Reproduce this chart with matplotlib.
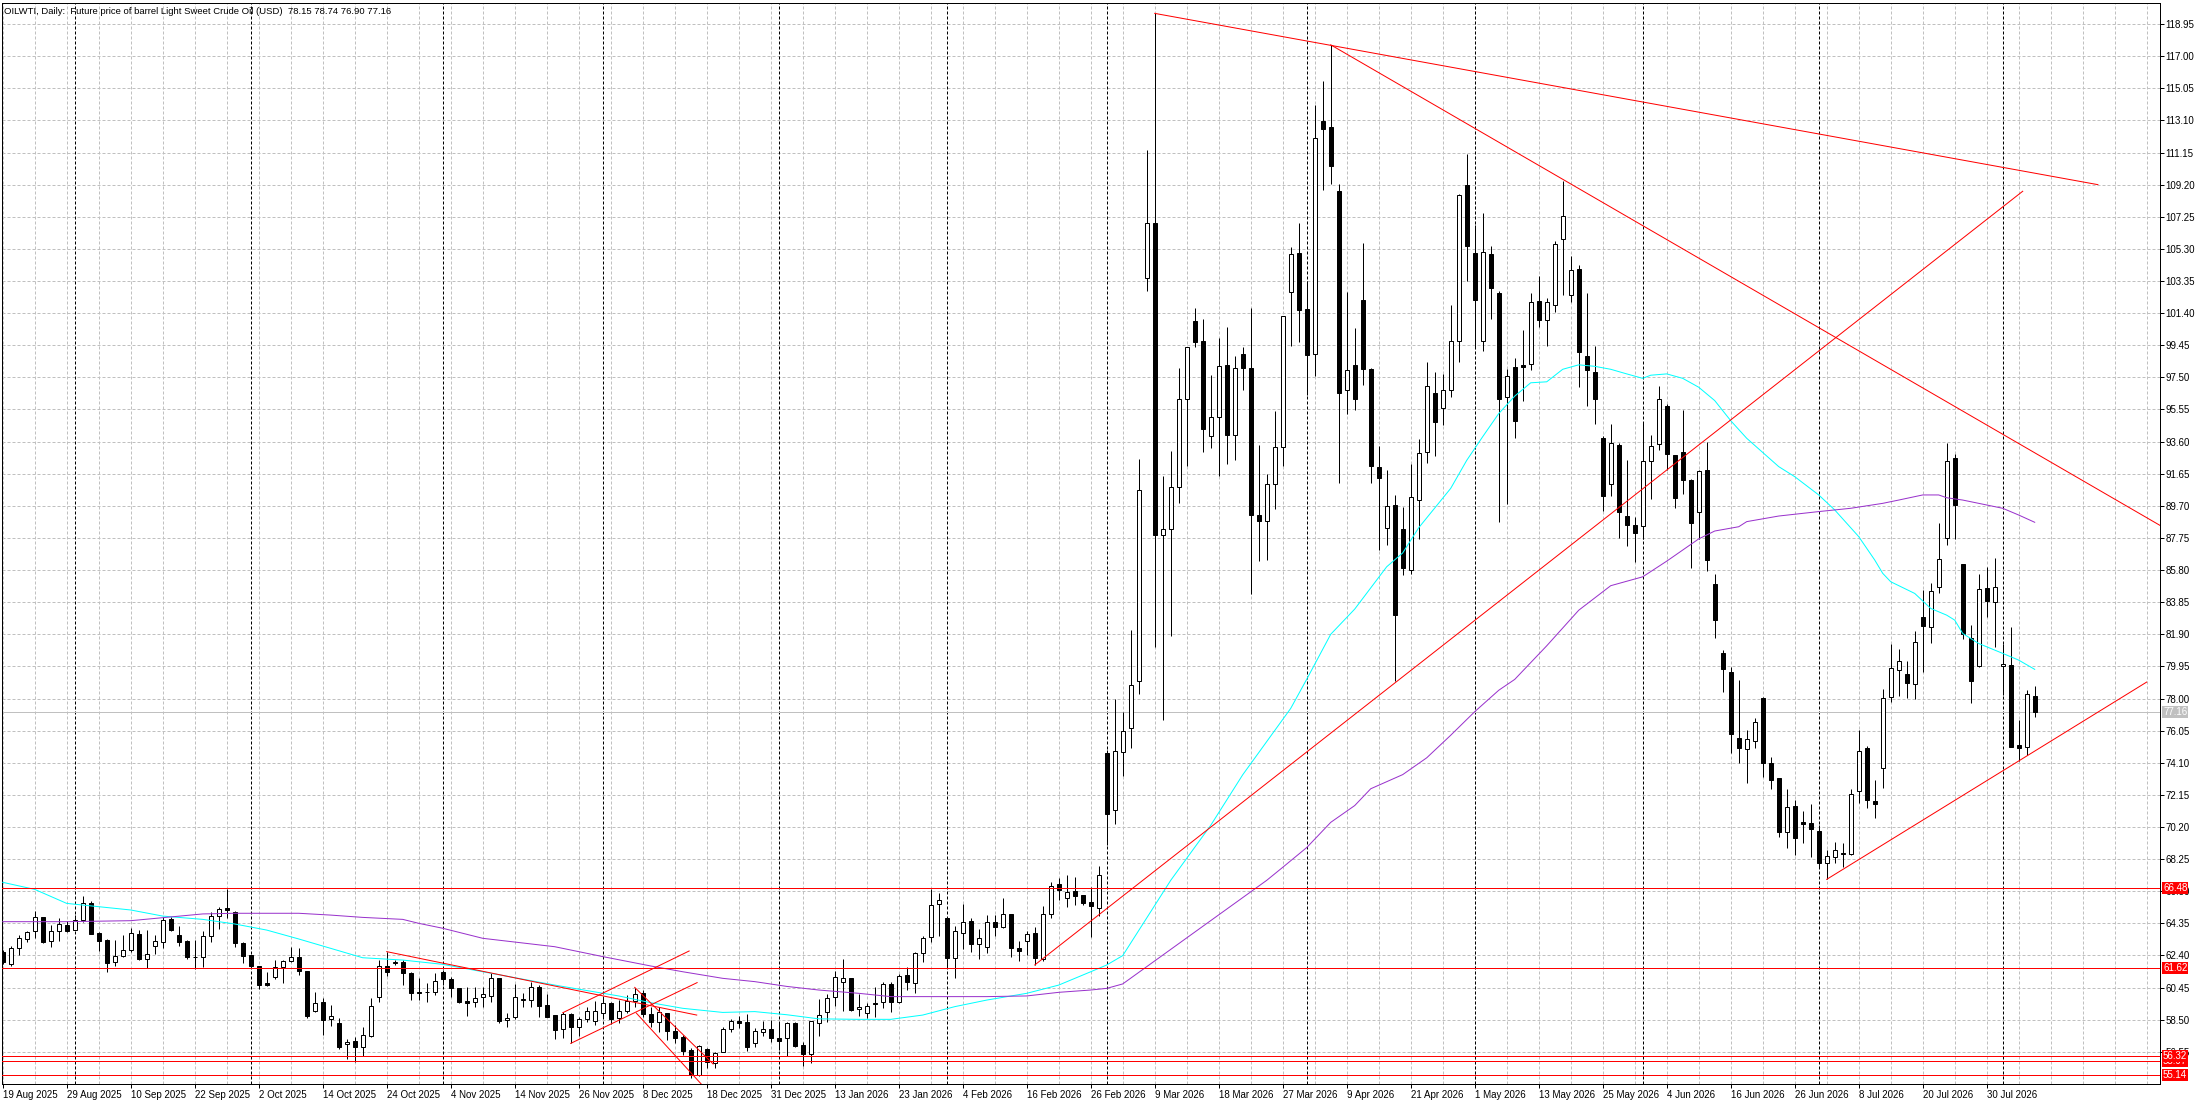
import numpy as np
import matplotlib
matplotlib.use('Agg')
import matplotlib.pyplot as plt

plt.rcParams['font.family'] = ['Liberation Sans', 'DejaVu Sans']
plt.rcParams['font.size'] = 7

# ---- daily bars: open, high, low, close (bar 0 = 19 Aug 2025)
opens = [62.63, 61.88, 62.83, 63.42, 63.88, 64.71, 63.26, 63.88, 64.25, 63.92,
         64.55, 65.56, 63.74, 63.34, 61.98, 62.38, 62.71, 63.70, 62.20, 62.95,
         63.24, 64.63, 63.64, 63.28, 62.30, 62.28, 63.60, 64.79, 65.26, 65.02,
         63.17, 62.43, 61.76, 60.72, 61.11, 61.68, 62.06, 62.28, 61.47, 59.05,
         59.55, 58.52, 58.28, 57.00, 57.20, 56.86, 57.53, 59.90, 61.76, 61.92,
         62.02, 61.31, 60.16, 60.20, 60.20, 61.37, 60.97, 60.40, 59.63, 59.59,
         59.86, 59.96, 61.01, 58.46, 58.64, 59.72, 59.69, 60.46, 59.37, 58.76,
         57.93, 58.82, 58.03, 58.52, 58.42, 58.93, 59.49, 58.58, 59.05, 59.63,
         60.10, 58.82, 58.34, 58.88, 57.83, 57.47, 56.66, 55.14, 56.70, 55.85,
         56.56, 57.91, 58.40, 58.34, 57.06, 57.77, 57.91, 57.37, 57.41, 58.28,
         56.96, 56.39, 58.32, 58.99, 59.90, 60.81, 61.01, 59.13, 58.88, 59.53,
         59.55, 60.67, 59.59, 61.21, 60.75, 62.57, 63.50, 65.50, 64.69, 62.22,
         63.74, 64.49, 63.07, 62.93, 64.41, 64.15, 64.90, 62.83, 63.30, 63.74,
         62.18, 64.90, 66.72, 65.87, 66.31, 66.05, 65.62, 65.30, 74.67, 71.22,
         74.74, 76.20, 79.07, 103.54, 106.88, 87.93, 88.30, 90.82, 96.21, 100.92,
         99.69, 93.93, 95.12, 98.26, 94.00, 98.94, 98.09, 89.12, 88.78, 91.03,
         93.25, 102.69, 105.07, 101.67, 98.94, 113.09, 112.68, 108.83, 96.72, 98.26,
         102.18, 98.02, 92.05, 88.37, 89.73, 88.27, 85.81, 90.08, 92.97, 96.55,
         95.64, 96.72, 99.72, 109.17, 105.07, 99.72, 104.97, 102.62, 96.31, 98.12,
         98.26, 98.31, 102.13, 100.96, 101.91, 105.89, 102.53, 104.08, 98.80, 97.85,
         93.79, 91.00, 93.38, 89.10, 88.51, 88.45, 92.43, 93.46, 95.76, 92.79,
         92.98, 91.27, 89.32, 91.89, 84.93, 80.74, 79.59, 75.58, 74.91, 75.42,
         78.05, 74.06, 73.15, 69.87, 71.47, 70.48, 70.42, 69.95, 68.03, 68.36,
         68.64, 68.56, 72.38, 74.97, 71.78, 73.76, 78.07, 79.73, 79.49, 78.86,
         82.93, 82.36, 84.75, 87.73, 92.58, 86.17, 81.65, 79.97, 84.69, 83.88,
         79.95, 80.03, 75.18, 75.03, 78.15]
highs = [62.70, 62.97, 63.62, 63.90, 65.10, 64.71, 64.25, 64.65, 64.51, 64.85,
         66.00, 65.70, 63.84, 63.42, 63.34, 63.66, 64.05, 63.94, 63.94, 63.64,
         64.75, 64.71, 64.19, 63.34, 63.34, 63.88, 65.02, 65.36, 66.45, 65.12,
         63.24, 62.43, 61.76, 61.41, 62.12, 62.12, 62.89, 62.83, 61.47, 60.18,
         59.84, 59.39, 58.58, 57.32, 57.47, 58.03, 59.80, 62.12, 62.63, 62.12,
         62.12, 61.41, 61.01, 60.75, 61.31, 61.50, 61.07, 60.40, 60.46, 60.46,
         60.50, 61.31, 61.01, 58.89, 60.67, 60.14, 60.81, 60.60, 60.04, 58.76,
         58.99, 58.93, 58.68, 59.29, 59.65, 59.80, 59.59, 59.69, 60.00, 60.44,
         60.30, 59.29, 59.29, 58.88, 58.17, 57.57, 56.76, 56.96, 56.76, 56.56,
         58.07, 58.54, 58.72, 58.84, 58.01, 58.44, 58.48, 58.28, 58.38, 58.38,
         57.16, 58.44, 59.73, 60.06, 61.45, 62.16, 61.01, 60.06, 59.53, 60.46,
         60.81, 60.81, 61.25, 61.72, 62.63, 63.60, 66.43, 66.17, 64.69, 64.19,
         65.50, 64.65, 63.98, 64.85, 64.85, 65.87, 64.90, 63.30, 63.90, 64.15,
         65.40, 66.88, 67.08, 67.28, 67.14, 66.05, 66.54, 67.83, 74.90, 77.97,
         77.19, 82.13, 92.53, 111.28, 119.60, 91.51, 93.04, 98.08, 99.35, 101.74,
         101.06, 97.64, 99.86, 100.54, 98.77, 99.35, 101.74, 93.38, 91.61, 95.43,
         101.22, 105.42, 106.85, 103.37, 114.01, 115.47, 117.69, 109.23, 102.69, 100.47,
         105.65, 98.09, 93.31, 91.85, 90.35, 89.63, 92.22, 93.76, 98.43, 97.85,
         97.68, 101.90, 108.66, 111.04, 106.78, 107.46, 105.48, 102.76, 97.99, 98.66,
         100.37, 102.64, 103.67, 102.32, 105.76, 109.41, 104.84, 104.35, 102.64, 99.42,
         93.92, 94.68, 93.52, 92.51, 89.00, 94.74, 93.98, 96.98, 95.87, 92.79,
         95.49, 91.35, 91.89, 93.60, 85.58, 80.92, 79.93, 79.12, 76.09, 76.84,
         78.11, 74.47, 73.15, 72.51, 71.84, 71.17, 71.57, 70.32, 68.80, 69.30,
         69.25, 72.51, 76.09, 75.12, 73.05, 78.56, 81.31, 80.99, 80.28, 82.10,
         84.59, 85.00, 88.64, 93.49, 92.85, 86.17, 82.46, 85.54, 86.00, 86.51,
         81.31, 82.32, 76.69, 78.51, 78.74]
lows = [61.90, 61.76, 62.43, 63.22, 63.48, 63.13, 62.93, 63.28, 63.82, 63.92,
        64.45, 63.70, 62.69, 61.41, 61.76, 62.32, 62.63, 62.12, 61.62, 62.47,
        62.87, 63.88, 62.97, 62.16, 61.56, 61.68, 63.24, 64.01, 64.65, 62.93,
        61.96, 61.76, 60.34, 60.54, 60.97, 60.70, 62.02, 61.23, 58.58, 58.99,
        57.57, 58.11, 56.72, 56.09, 55.91, 56.29, 57.47, 59.59, 61.15, 61.82,
        60.60, 59.69, 59.69, 59.59, 60.00, 60.62, 59.90, 59.49, 58.72, 59.29,
        59.29, 59.59, 58.28, 58.07, 58.52, 59.29, 59.29, 58.64, 58.68, 57.32,
        57.37, 57.06, 57.53, 58.38, 58.17, 58.64, 58.24, 58.28, 58.89, 59.29,
        58.68, 58.07, 57.77, 57.26, 57.06, 56.35, 54.94, 55.08, 55.54, 55.54,
        56.56, 57.77, 57.97, 56.60, 56.86, 57.51, 57.12, 56.66, 56.29, 56.86,
        55.69, 55.89, 57.51, 58.38, 59.33, 59.04, 59.04, 58.72, 58.58, 58.68,
        59.19, 58.95, 59.49, 60.30, 60.10, 62.02, 63.24, 63.60, 61.62, 61.05,
        62.79, 62.63, 62.16, 62.57, 63.60, 64.05, 62.32, 62.08, 62.43, 61.82,
        62.08, 64.69, 65.76, 65.36, 65.46, 65.46, 63.54, 64.79, 69.11, 70.40,
        73.27, 74.97, 78.25, 102.76, 81.15, 76.71, 81.80, 89.90, 92.10, 99.35,
        92.98, 93.21, 91.51, 92.24, 92.46, 96.72, 84.35, 86.33, 86.43, 89.50,
        92.12, 99.38, 99.62, 96.45, 97.58, 108.89, 109.23, 91.10, 95.26, 95.53,
        97.06, 91.10, 87.01, 87.35, 79.06, 85.48, 85.58, 87.69, 92.29, 92.73,
        94.61, 96.28, 98.43, 103.37, 99.35, 99.11, 101.05, 88.71, 89.81, 93.79,
        96.09, 97.93, 100.56, 99.39, 101.45, 102.53, 102.05, 96.90, 95.76, 94.68,
        89.37, 90.27, 87.75, 87.29, 86.29, 87.69, 90.13, 93.11, 91.89, 89.59,
        90.40, 85.93, 87.69, 85.74, 81.66, 78.41, 74.67, 74.06, 72.85, 74.97,
        73.21, 72.49, 69.61, 68.90, 68.50, 69.25, 68.40, 67.69, 67.02, 68.03,
        67.79, 68.50, 71.67, 71.37, 70.72, 72.59, 77.81, 78.15, 78.01, 77.95,
        79.59, 81.39, 84.43, 87.32, 87.67, 81.61, 77.75, 79.93, 82.97, 81.15,
        78.21, 75.08, 74.22, 74.57, 76.90]
closes = [61.98, 62.83, 63.44, 63.82, 64.71, 63.24, 63.88, 64.29, 63.88, 64.55,
          65.56, 63.72, 63.30, 61.96, 62.38, 62.71, 63.74, 62.18, 62.47, 63.28,
          64.55, 63.92, 63.24, 62.33, 62.28, 63.60, 64.79, 65.22, 65.16, 63.13,
          62.38, 61.76, 60.60, 60.62, 61.68, 62.06, 62.28, 61.47, 58.72, 59.49,
          58.48, 58.72, 56.86, 57.14, 56.86, 57.57, 59.35, 61.76, 61.41, 62.02,
          61.31, 60.10, 60.10, 60.16, 60.85, 60.97, 60.40, 59.59, 59.49, 59.79,
          60.04, 61.01, 58.42, 58.58, 59.86, 59.74, 60.50, 59.35, 58.68, 57.87,
          58.82, 58.07, 58.52, 59.05, 59.05, 59.49, 58.52, 59.05, 59.63, 60.04,
          58.82, 58.34, 58.95, 57.83, 57.41, 56.62, 55.14, 56.90, 55.91, 56.50,
          57.91, 58.44, 58.32, 56.86, 57.81, 57.91, 57.41, 57.22, 58.28, 56.92,
          56.39, 58.40, 58.78, 59.80, 61.07, 61.01, 59.09, 59.25, 59.35, 59.43,
          60.67, 59.59, 61.15, 60.81, 62.53, 63.44, 65.46, 65.76, 62.26, 63.88,
          64.41, 63.07, 63.44, 64.41, 64.15, 64.90, 62.87, 62.69, 63.68, 62.26,
          64.90, 66.64, 66.37, 66.23, 66.03, 65.56, 65.42, 67.28, 70.99, 74.80,
          76.03, 78.83, 90.69, 106.88, 87.93, 88.30, 90.82, 96.21, 99.35, 99.62,
          94.34, 95.12, 98.19, 94.00, 98.06, 98.09, 89.12, 88.78, 91.03, 93.25,
          101.22, 105.00, 101.56, 98.87, 112.06, 112.58, 110.36, 96.55, 97.92, 96.21,
          97.98, 92.12, 91.37, 89.67, 83.09, 85.92, 90.21, 92.90, 97.00, 94.78,
          96.72, 99.69, 108.55, 105.48, 102.18, 105.14, 102.93, 96.21, 97.58, 94.87,
          98.15, 102.05, 100.96, 102.05, 105.62, 107.27, 104.02, 99.01, 97.93, 96.17,
          90.32, 93.52, 89.32, 88.56, 88.05, 92.43, 93.33, 96.17, 92.84, 90.19,
          91.27, 88.64, 91.81, 86.42, 82.74, 79.79, 75.82, 74.97, 75.52, 76.55,
          74.06, 73.05, 69.87, 71.43, 69.51, 70.40, 70.06, 68.03, 68.44, 68.80,
          68.58, 72.18, 74.81, 71.84, 71.57, 78.01, 79.83, 80.28, 78.92, 81.41,
          82.42, 84.55, 86.45, 92.40, 89.75, 81.90, 79.08, 84.63, 83.92, 84.75,
          80.07, 75.08, 75.01, 78.27, 77.16]

date_labels = ['19 Aug 2025', '29 Aug 2025', '10 Sep 2025', '22 Sep 2025', '2 Oct 2025',
               '14 Oct 2025', '24 Oct 2025', '4 Nov 2025', '14 Nov 2025', '26 Nov 2025',
               '8 Dec 2025', '18 Dec 2025', '31 Dec 2025', '13 Jan 2026', '23 Jan 2026',
               '4 Feb 2026', '16 Feb 2026', '26 Feb 2026', '9 Mar 2026', '18 Mar 2026',
               '27 Mar 2026', '9 Apr 2026', '21 Apr 2026', '1 May 2026', '13 May 2026',
               '25 May 2026', '4 Jun 2026', '16 Jun 2026', '26 Jun 2026', '8 Jul 2026',
               '20 Jul 2026', '30 Jul 2026']

# first bar of each month (period separators)
month_starts = [9, 31, 55, 75, 97, 118, 138, 163, 184, 205, 227, 250]

# moving averages (bar index, value)
ma_fast_x = [0, 4, 8, 12, 16, 20, 25, 29, 33, 37, 41, 45, 50, 55, 60, 69, 77, 81, 85, 90,
             94, 98, 102, 107, 111, 115, 119, 123, 128, 132, 136, 138, 140, 146, 151, 155,
             161, 163, 166, 169, 173, 175, 177, 181, 183, 185, 187, 189, 191, 193, 195,
             197, 199, 201, 203, 205, 206, 208, 210, 212, 214, 216, 218, 222, 224, 227,
             229, 232, 234, 235, 236, 239, 241, 243, 244, 245, 247, 250, 252, 254]
ma_fast_y = [66.84, 66.41, 65.56, 65.36, 65.16, 64.79, 64.59, 64.31, 63.94, 63.40, 62.83,
             62.26, 62.12, 61.86, 61.41, 60.60, 59.94, 59.53, 59.19, 58.94, 58.99, 58.80,
             58.55, 58.52, 58.52, 58.78, 59.29, 59.69, 60.10, 60.60, 61.41, 61.82, 62.39,
             66.96, 70.30, 73.37, 77.40, 79.17, 81.90, 83.43, 86.00, 86.84, 88.37, 90.76,
             92.46, 93.90, 95.30, 96.36, 97.17, 97.23, 97.99, 98.26, 98.17, 97.99, 97.71,
             97.44, 97.63, 97.71, 97.44, 96.90, 96.09, 94.87, 93.80, 92.08, 91.47, 90.36,
             89.45, 87.83, 86.41, 85.60, 85.09, 84.38, 83.47, 83.06, 82.76, 81.95, 81.34,
             80.74, 80.33, 79.77]
ma_slow_x = [0, 8, 16, 25, 29, 37, 41, 45, 50, 52, 55, 60, 69, 75, 81, 85, 90, 94, 98,
             102, 107, 111, 115, 119, 123, 128, 132, 136, 138, 140, 158, 160, 163, 166,
             169, 171, 175, 178, 181, 184, 187, 189, 193, 197, 201, 205, 208, 212, 214,
             217, 218, 222, 227, 231, 235, 237, 240, 242, 243, 245, 247, 250, 252, 254]
ma_slow_y = [64.45, 64.45, 64.51, 64.92, 64.96, 64.96, 64.85, 64.71, 64.59, 64.35, 64.05,
             63.44, 62.93, 62.33, 61.76, 61.41, 61.01, 60.81, 60.52, 60.30, 60.10, 59.90,
             59.90, 59.90, 59.90, 59.94, 60.16, 60.30, 60.40, 60.67, 66.96, 67.75, 68.95,
             70.48, 71.50, 72.52, 73.38, 74.40, 75.77, 77.20, 78.50, 79.16, 81.20, 83.36,
             84.85, 85.39, 86.34, 87.69, 88.17, 88.43, 88.74, 89.08, 89.35, 89.55, 89.85,
             90.05, 90.36, 90.36, 90.19, 90.05, 89.85, 89.55, 89.14, 88.70]

# drawn trend lines: (bar0, price0, bar1, price1)
trend_lines = [
    (144, 119.60, 261.9, 109.20),
    (166, 117.69, 269.7, 88.50),
    (129, 61.82, 252.5, 108.80),
    (228, 67.02, 268.0, 79.00),
    (48, 62.63, 86.75, 58.78),
    (70, 58.92, 85.8, 62.67),
    (71, 57.06, 86.8, 60.75),
    (79, 60.46, 88.8, 55.81),
    (79.2, 58.90, 87.3, 54.60),
]
levels = [66.48, 61.62, 55.97, 56.32, 55.14]
last_price = 77.16
title = 'OILWTI, Daily:  Future price of barrel Light Sweet Crude Oil (USD)  78.15 78.74 76.90 77.16'

# ---- figure
W, H = 2203, 1105
fig = plt.figure(figsize=(W / 100, H / 100), dpi=100, facecolor='white')
ax = fig.add_axes([2 / W, 21 / H, 2158 / W, 1081 / H])
ax.set_facecolor('white')

n = len(closes)
x = np.arange(n)
o = np.array(opens)
c = np.array(closes)
px = 0.72  # one pixel in points

ax.set_xlim(-0.09, 269.66)
ax.set_ylim(54.594, 120.23)

# grid
ax.set_xticks(np.arange(0, n, 8))
ax.set_xticklabels(date_labels, ha='left')
ax.set_xticks([i for i in range(0, 270, 4) if i % 8 or i >= n], minor=True)
yt = np.round(56.55 + 1.95 * np.arange(33), 2)
ax.set_yticks(yt)
ax.set_yticklabels(['%.2f' % v for v in yt])
ax.yaxis.tick_right()
ax.grid(True, which='both', axis='x', color='#c0c0c0', lw=px, linestyle=(0, (3, 2)), zorder=0)
ax.grid(True, which='major', axis='y', color='#c0c0c0', lw=px, linestyle=(0, (3, 2)), zorder=0)
ax.set_axisbelow(True)
ax.tick_params(axis='x', which='major', length=3, width=px, pad=1, labelsize=7)
ax.tick_params(axis='x', which='minor', length=0)
ax.tick_params(axis='y', which='major', length=3, width=px, pad=1, labelsize=7)
for sp in ax.spines.values():
    sp.set_linewidth(px)
    sp.set_color('black')

for m in month_starts:
    ax.axvline(m, color='black', lw=px, linestyle=(0, (3, 2)), zorder=1)

# last price line
ax.axhline(last_price, color='#c0c0c0', lw=px, zorder=1)

# candles
ax.vlines(x, lows, highs, color='black', lw=px, zorder=3)
body_lo = np.minimum(o, c)
body_h = np.maximum(np.abs(c - o), 0.03)
up = c >= o
ax.bar(x[up], body_h[up], bottom=body_lo[up], width=0.55, color='white',
       edgecolor='black', linewidth=px, zorder=4)
ax.bar(x[~up], body_h[~up], bottom=body_lo[~up], width=0.55, color='black',
       edgecolor='black', linewidth=px, zorder=4)

# moving averages
ax.plot(ma_fast_x, ma_fast_y, color='#00ffff', lw=px, zorder=5)
ax.plot(ma_slow_x, ma_slow_y, color='#9932cc', lw=px, zorder=5)

# objects
for x0, y0, x1, y1 in trend_lines:
    ax.plot([x0, x1], [y0, y1], color='red', lw=px, zorder=6)
for lv in levels:
    ax.axhline(lv, color='red', lw=px, zorder=6)

ytr = ax.get_yaxis_transform()
for lv in levels:
    ax.annotate('%.2f' % lv, xy=(1, lv), xycoords=ytr, xytext=(3, 0),
                textcoords='offset pixels', ha='left', va='center', color='white',
                fontsize=7, annotation_clip=False, zorder=10,
                bbox=dict(boxstyle='square,pad=0.1', fc='red', ec='none'))
ax.annotate('%.2f' % last_price, xy=(1, last_price), xycoords=ytr, xytext=(3, 0),
            textcoords='offset pixels', ha='left', va='center', color='white',
            fontsize=7, annotation_clip=False, zorder=10,
            bbox=dict(boxstyle='square,pad=0.1', fc='#c0c0c0', ec='none'))

fig.text(4 / W, 1 - 11.5 / H, title, ha='left', va='center', fontsize=6.8, color='black')

fig.savefig('out.png', dpi=100, facecolor='white')
